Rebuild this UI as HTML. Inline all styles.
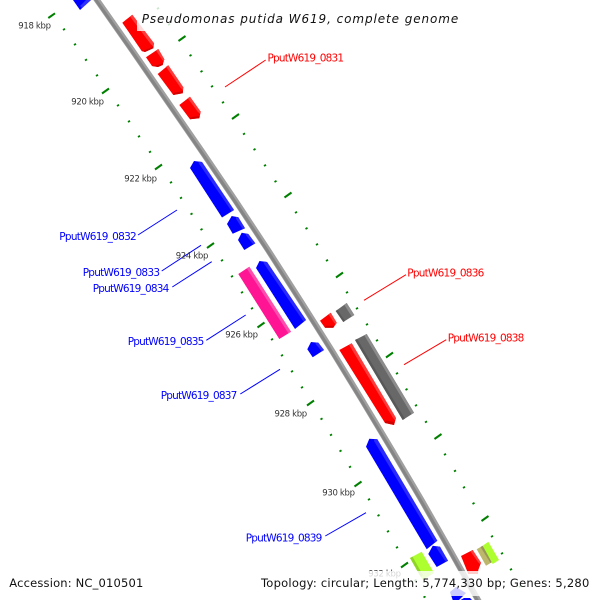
<!DOCTYPE html>
<html><head><meta charset="utf-8"><style>
html,body{margin:0;padding:0;background:#fff}
svg{display:block}
text{font-family:"DejaVu Sans","Liberation Sans",sans-serif}
.k{font-size:8.500px;fill:#333}
.l{font-size:10.500px}
</style></head><body>
<svg width="600" height="600" viewBox="0 0 600 600" xmlns="http://www.w3.org/2000/svg">
<rect width="600" height="600" fill="#fff"/>
<!-- ticks inner -->
<path fill="none" stroke="#008000" stroke-width="2" d="M48.300 18l6.700-4.700M102 93.500l7-5M155 169.500l7-5M207 248l7-5M257.500 327.500l7-5M307 405.500l7-5M354.500 486.500l7-5M401 567.500l7-5"/>
<path fill="none" stroke="#008000" stroke-width="1.800" d="M63 30l2-1.200M74 45l2-1.200M85 60.500l2-1.200M96 76l2-1.200M117 106l2-1.200M128 122l2-1.200M138 137l2-1.200M149 152.500l2-1.200M170 183l2-1.200M180 198.500l2-1.200M190.500 214.500l2-1.200M200.500 230l2-1.200M221 261l2-1.200M231 277l2-1.200M241 293l2-1.200M251 309l2-1.200M271 340l2-1.200M281 356l2-1.200M291 372l2-1.200M301 388l2-1.200M320.500 419.500l2-1.200M330 435.500l2-1.200M339.500 451.500l2-1.200M349 467.500l2-1.200M368 500l2-1.200M377.500 516l2-1.200M387 532l2-1.200M396 548l2-1.200M414.500 581l2-1.200M423.500 597.500l2-1.200"/>
<!-- ticks outer -->
<path fill="none" stroke="#008000" stroke-width="2" d="M178.500 41l7-5M232 119l7-5M284.500 197.500l7-5M336 277.500l7-5M386 357.500l7-5M434.500 439l7-5M481.500 521l7-5"/>
<path fill="none" stroke="#008000" stroke-width="1.800" d="M157 9l2-1.200M168 25l2-1.200M189.500 56l2-1.200M200.500 72l2-1.200M211 87l2-1.200M222 103l2-1.200M243 134.500l2-1.200M253.500 150l2-1.200M264 166l2-1.200M274.500 182l2-1.200M295 213l2-1.200M305.500 229l2-1.200M316 245l2-1.200M326 261l2-1.200M346 293l2-1.200M356 309l2-1.200M366 325l2-1.200M376 341l2-1.200M396 374l2-1.200M405.500 390l2-1.200M415 406l2-1.200M425 422.500l2-1.200M444 455l2-1.200M454 471.500l2-1.200M463 488l2-1.200M472.500 504l2-1.200M491 537l2-1.200M501 554l2-1.200M510 570l2-1.200M519 587l2-1.200"/>
<!-- backbone -->
<polyline fill="none" stroke="#a0a0a0" stroke-width="6" points="93.500,-5 97,0 132,50 166.500,100 201,150 235,200 268,250 300,300 331.500,350 362,400 392,450 421.500,500 450,550 478,600 481,605"/>
<polyline fill="none" stroke="#858585" stroke-width="3" transform="translate(-.8,.4)" points="93.500,-5 97,0 132,50 166.500,100 201,150 235,200 268,250 300,300 331.500,350 362,400 392,450 421.500,500 450,550 478,600 481,605"/>
<!-- genes: red group -->
<polygon fill="#0000ff" points="73,0 91,0 80,10"/>
<polygon fill="#3030ff" points="86,0 91,0 82,8 80,6"/>
<g fill="#ff0000">
<polygon points="122.300,22.700 132.300,14.700 154,43.300 153.300,48.300 145,52 141.700,51"/>
<polygon points="146,57.300 158.300,49 164.300,59.300 162.700,65 158,67 152,66"/>
<polygon points="157.700,74 168.300,65.300 183.300,87.300 182.700,93.300 173.300,95"/>
<polygon points="179.300,105 190,96.700 200.700,111.700 199.300,118.300 190,119.300"/>
<polygon points="320,320.700 330.700,312.700 336.700,322.700 333.300,327.700 325,327.700"/>
<polygon points="339.300,350 351.700,343.300 396,418 394,425 385,423"/>
<polygon points="461,556 472.700,550 481,562.700 478.300,570 478,574 468.300,574"/>
</g>
<g fill="#ff3c3c">
<polygon points="130,16.500 132.300,14.700 154,43.300 153.500,46.500 151,44.500"/>
<polygon points="156,50.500 158.300,49 164.300,59.300 163.700,61.500 162,59.500"/>
<polygon points="166,66.800 168.300,65.300 183.300,87.300 183,90 180.800,88"/>
<polygon points="187.700,98.200 190,96.700 200.700,111.700 200.200,114 198,112"/>
<polygon points="328.500,314.400 330.700,312.700 336.700,322.700 335.800,324.500 334,322.500"/>
<polygon points="349,344.800 351.700,343.300 396,418 395.300,420.500 393,418"/>
<polygon points="470.300,551.200 472.700,550 481,562.700 480.300,564.500 478,562"/>
</g>
<g fill="#d40000">
<polygon points="141.700,51 145,52 153.300,48.300 153.600,46.500 145,50"/>
<polygon points="152,66 158,67 162.700,65 163,63 157.500,65"/>
<polygon points="173.300,95 182.700,93.300 183,91 174,92.800"/>
<polygon points="190,119.300 199.300,118.300 199.800,116 191,117"/>
<polygon points="325,327.700 333.300,327.700 334.500,325.800 326,325.800"/>
<polygon points="385,423 394,425 394.800,422 386,420.500"/>
</g>
<!-- blue genes -->
<g fill="#0000ff">
<polygon points="190,168 194,161 202,162 234,210 222,217.500"/>
<polygon points="227,224 231.700,216 238.300,217.300 245,228.300 232.700,233.700"/>
<polygon points="238,240 241.700,232.700 248.300,234 255.300,243.300 244.300,250"/>
<polygon points="256,268 259.500,261 267,262 306,320 295,329"/>
<polygon points="307.300,349.300 311,342 318.300,342.700 324,350 312.700,357.300"/>
<polygon points="366,446.700 369.300,438.700 377.300,439.300 437.300,540.700 426.700,549.300"/>
<polygon points="428.300,554 432.700,545.700 440,546.700 448,560.700 436.700,567"/>
<polygon points="450,592 456,587 466,593 458,601 453,601"/>
<polygon points="459,601 464,598 470,598 473,601"/>
</g>
<g fill="#2a2aff">
<polygon points="199,161.600 202,162 234,210 231.800,211.500 198.500,163"/>
<polygon points="236,216.900 238.300,217.300 245,228.300 242.800,229.300 235.800,218.500"/>
<polygon points="246,233.500 248.300,234 255.300,243.300 253.300,244.500 245.800,235"/>
<polygon points="264,261.600 267,262 306,320 303.700,321.800 263.500,263"/>
<polygon points="316,342.500 318.300,342.700 324,350 322,351.400 315.500,344"/>
<polygon points="374.500,439.100 377.300,439.300 437.300,540.700 435,542.500 374,441"/>
<polygon points="437,546.300 440,546.700 448,560.700 445.800,561.900 436.500,548"/>
</g>
<!-- magenta -->
<polygon fill="#ff1493" points="238.300,274 249.300,266.700 291,331.700 279.300,339"/>
<polygon fill="#ff4fae" points="246.800,268.400 249.300,266.700 291,331.700 288.400,333.400"/>
<!-- gray genes -->
<g fill="#686868">
<polygon points="335.700,311 346.700,303 354.300,315 343.300,322"/>
<polygon points="355,340 366.700,334 414,412.700 402.700,420"/>
</g>
<g fill="#8c8c8c">
<polygon points="344.200,304.800 346.700,303 354.300,315 351.800,316.600"/>
<polygon points="364.200,335.300 366.700,334 414,412.700 411.600,414.300"/>
</g>
<g fill="#585858">
<polygon points="335.700,311 337.500,309.700 345,320.900 343.300,322"/>
<polygon points="355,340 357.200,338.900 404.800,418.700 402.700,420"/>
</g>
<!-- green/tan -->
<polygon fill="#adff2f" points="410,558 421.700,551.700 432.300,570 434,573 423,580 420,576"/>
<polygon fill="#8fd427" points="410,558 412.500,556.600 423,575.300 421,577"/>
<polygon fill="#bdb76b" points="476.700,549.300 482.700,545.700 492.700,561.700 486,565.700"/>
<polygon fill="#98945a" points="480.500,547 482.700,545.700 492.700,561.700 490.500,563"/>
<polygon fill="#adff2f" points="482.700,545.700 488.300,541.700 499,560 492.700,564"/>
<!-- connectors -->
<g stroke="#0000ff" stroke-width="1" fill="none">
<line x1="138" y1="235" x2="177" y2="210"/>
<line x1="161.700" y1="271" x2="201" y2="245.300"/>
<line x1="172.300" y1="287" x2="211.700" y2="261.700"/>
<line x1="206.300" y1="340.300" x2="245.700" y2="315"/>
<line x1="240.300" y1="394" x2="280" y2="369.300"/>
<line x1="325.300" y1="536" x2="366" y2="512.700"/>
</g>
<g stroke="#ff0000" stroke-width="1" fill="none">
<line x1="225" y1="87" x2="265.700" y2="60"/>
<line x1="364" y1="300.300" x2="406" y2="274.700"/>
<line x1="404" y1="364.700" x2="446.300" y2="339.700"/>
</g>
<!-- kbp labels -->
<text class="k" x="18.300" y="28.500" textLength="32.700">918 kbp</text>
<text class="k" x="71.300" y="104.500" textLength="32.700">920 kbp</text>
<text class="k" x="124.300" y="181.500" textLength="32.700">922 kbp</text>
<text class="k" x="175.700" y="258.500" textLength="32.700">924 kbp</text>
<text class="k" x="225.300" y="337.500" textLength="32.700">926 kbp</text>
<text class="k" x="274.500" y="416.500" textLength="32.700">928 kbp</text>
<text class="k" x="322.300" y="495.500" textLength="32.700">930 kbp</text>
<text class="k" x="368.300" y="576.500" textLength="32.700">932 kbp</text>
<!-- gene labels -->
<g class="l" fill="#0000ff">
<text class="l" x="59.300" y="240" textLength="77.400">PputW619_0832</text>
<text class="l" x="82.700" y="276" textLength="77.300">PputW619_0833</text>
<text class="l" x="92.700" y="292" textLength="76.600">PputW619_0834</text>
<text class="l" x="127.700" y="345" textLength="76.600">PputW619_0835</text>
<text class="l" x="160.700" y="399" textLength="76.600">PputW619_0837</text>
<text class="l" x="245.700" y="541.500" textLength="76.600">PputW619_0839</text>
</g>
<g class="l" fill="#ff0000">
<text class="l" x="267.500" y="61.500" textLength="76.500">PputW619_0831</text>
<text class="l" x="407.300" y="276.500" textLength="77">PputW619_0836</text>
<text class="l" x="447.700" y="341.500" textLength="76.600">PputW619_0838</text>
</g>
<!-- overlays -->
<rect x="137" y="4" width="327" height="27" fill="#fff" fill-opacity=".8"/>
<rect x="5" y="571" width="590" height="25" fill="#fff" fill-opacity=".8"/>
<text x="141.700" y="23" font-size="12" font-style="italic" fill="#111" textLength="316.600">Pseudomonas putida W619, complete genome</text>
<text x="9.300" y="587" font-size="11.500" fill="#111" textLength="134">Accession: NC_010501</text>
<text x="261" y="587" font-size="11.500" fill="#111" textLength="328.300">Topology: circular; Length: 5,774,330 bp; Genes: 5,280</text>
</svg>
</body></html>
